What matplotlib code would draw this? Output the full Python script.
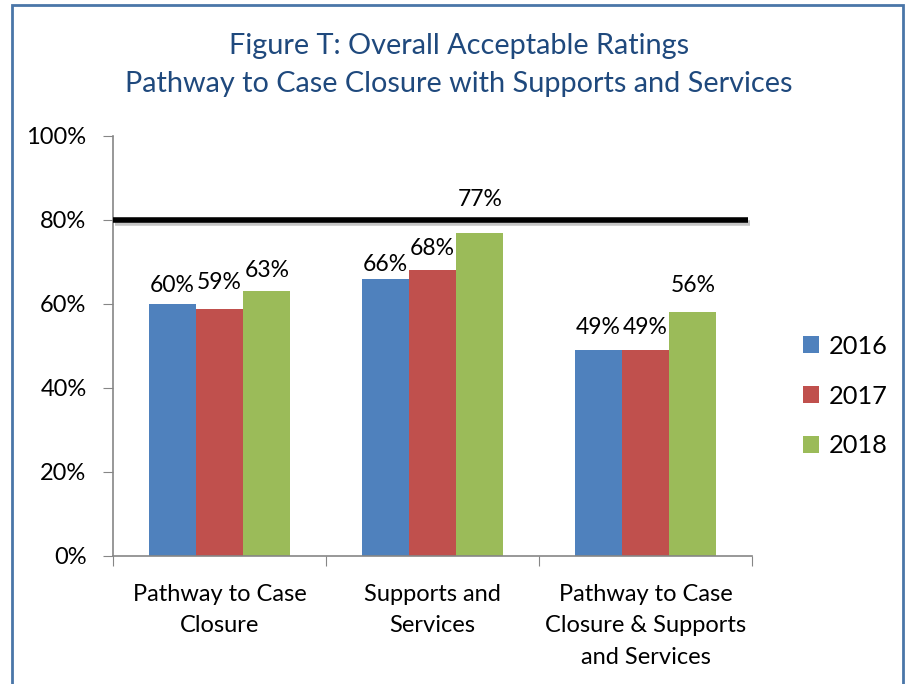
import matplotlib
matplotlib.use("Agg")
import matplotlib.pyplot as plt
import matplotlib.patches as mpatches
import matplotlib.patheffects as pe
import numpy as np

plt.rcParams['font.family'] = ['Lato', 'DejaVu Sans']

categories = ["Pathway to Case\nClosure", "Supports and\nServices", "Pathway to Case\nClosure & Supports\nand Services"]
years = ["2016", "2017", "2018"]
values = {
    "2016": [60, 66, 49],
    "2017": [58.8, 68, 49],
    "2018": [63, 77, 58],
}
label_texts = {
    "2016": ["60%", "66%", "49%"],
    "2017": ["59%", "68%", "49%"],
    "2018": ["63%", "77%", "56%"],
}
label_offsets = {
    "2016": [4.5, 3.3, 5.5],
    "2017": [6.4, 5.3, 5.5],
    "2018": [5.0, 8.0, 6.3],
}
target = 80
colors = {"2016": "#4F81BD", "2017": "#C0504D", "2018": "#9BBB59"}

W, H = 906, 684
fig = plt.figure(figsize=(W / 100, H / 100), dpi=100)
ax = fig.add_axes([113 / W, 1 - 556 / H, (752 - 113) / W, (556 - 136) / H])

x = np.arange(len(categories))
bw = 0.222
for i, yr in enumerate(years):
    pos = x + (i - 1) * bw
    ax.bar(pos, values[yr], width=bw, color=colors[yr], label=yr, zorder=2)
    for p, v, t, o in zip(pos, values[yr], label_texts[yr], label_offsets[yr]):
        ax.text(p, v + o, t, ha="center", va="center", fontsize=16.5, color="black")

ax.plot([-0.5, 2.48], [target, target], color="black", lw=4, zorder=3, solid_capstyle="butt",
        path_effects=[pe.SimpleLineShadow(offset=(1.5, -2.5), shadow_color="gray", alpha=0.45),
                      pe.Normal()])

ax.set_xlim(-0.5, 2.5)
ax.set_ylim(0, 100)
ax.set_yticks([0, 20, 40, 60, 80, 100])
ax.set_yticklabels([f"{v}%" for v in [0, 20, 40, 60, 80, 100]], fontsize=17)
ax.set_xticks([-0.5, 0.5, 1.5, 2.5])
ax.set_xticklabels([])
ax.set_xticks(x, minor=True)
ax.set_xticklabels(categories, minor=True, fontsize=17, linespacing=1.62)
ax.tick_params(axis="x", which="minor", length=0, pad=20)
ax.tick_params(axis="x", which="major", length=7, color="#868686", direction="out")
ax.tick_params(axis="y", length=7, color="#868686", direction="out", pad=12)
for s in ["top", "right"]:
    ax.spines[s].set_visible(False)
for s in ["left", "bottom"]:
    ax.spines[s].set_color("#868686")
    ax.spines[s].set_linewidth(1.2)

fig.text(459 / W, 1 - 46 / H, "Figure T: Overall Acceptable Ratings", ha="center", va="center",
         fontsize=20.8, color="#1F497D")
fig.text(459 / W, 1 - 84 / H, "Pathway to Case Closure with Supports and Services", ha="center",
         va="center", fontsize=20.8, color="#1F497D")

leg = fig.legend(loc="center left", bbox_to_anchor=(780 / W, 1 - 396 / H), frameon=False,
                 fontsize=18.3, handlelength=0.65, handleheight=0.65, labelspacing=1.05,
                 handletextpad=0.35)

fig.patches.append(mpatches.Rectangle((12 / W, -0.05), (903 - 12) / W, 1 - 5 / H + 0.05,
                                      transform=fig.transFigure, fill=False,
                                      edgecolor="#4A76A8", lw=2))

fig.savefig("out.png", dpi=100)
